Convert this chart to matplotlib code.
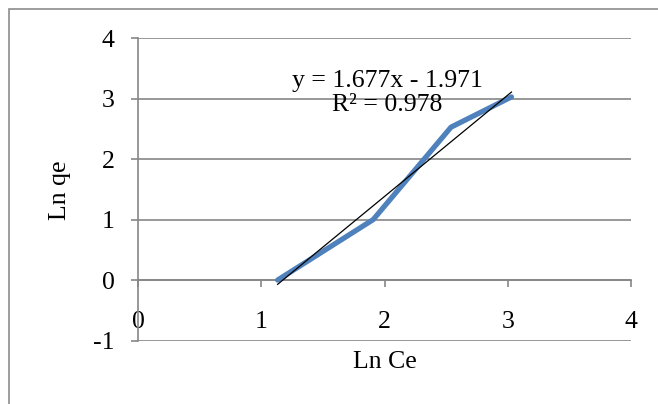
import matplotlib.pyplot as plt
from matplotlib.patches import Rectangle
import numpy as np

# Freundlich isotherm, linear form
ln_ce = [1.133, 1.908, 2.54, 3.03]
ln_qe = [0.0, 1.0, 2.53, 3.03]
slope = 1.677
intercept = -1.971
r2 = 0.978

plt.rcParams['font.family'] = ['Liberation Serif', 'DejaVu Serif']
plt.rcParams['axes.unicode_minus'] = False

fs = 18.5

fig = plt.figure(figsize=(6.58, 4.04), dpi=100)
W, H = 658, 404
ax = fig.add_axes([138 / W, 1 - 340.5 / H, (631 - 138) / W, (340.5 - 38.3) / H])

# chart border
fig.patches.append(Rectangle((9 / W, -0.1), 1.2, 1 - 9 / H + 0.1, transform=fig.transFigure,
                             fill=False, edgecolor='#8c8c8c', linewidth=1.2))

grid_c = '#868686'
ax.plot(ln_ce, ln_qe, color='#4f81bd', linewidth=3.8, solid_capstyle='round',
        solid_joinstyle='round', zorder=3)

# linear trendline over the data range
xs = np.array([min(ln_ce), max(ln_ce)])
ax.plot(xs, slope * xs + intercept, color='black', linewidth=0.9, zorder=4)

ax.text(2.02, 3.1, "y = %.3fx - %.3f\nR² = %.3f" % (slope, -intercept, r2),
        ha='center', va='center', fontsize=fs, linespacing=1.12, zorder=5)

ax.set_xlim(0, 4)
ax.set_ylim(-1, 4)
ax.set_xticks([0, 1, 2, 3, 4])
ax.set_yticks([-1, 0, 1, 2, 3, 4])
ax.yaxis.grid(True, color=grid_c, linewidth=1.2)
ax.set_axisbelow(True)

for s in ['top', 'right']:
    ax.spines[s].set_visible(False)
ax.spines['left'].set_color(grid_c)
ax.spines['left'].set_linewidth(1.2)
ax.spines['bottom'].set_position(('data', 0))
ax.spines['bottom'].set_color(grid_c)
ax.spines['bottom'].set_linewidth(1.2)

ax.tick_params(axis='y', direction='out', length=5, width=1.2, color=grid_c,
               labelsize=fs, pad=12)
ax.tick_params(axis='x', direction='out', length=5, width=1.2, color=grid_c,
               labelsize=fs, pad=17)

# axis titles placed in figure coordinates
fig.text(385 / W, 1 - 362 / H, "Ln Ce", fontsize=fs, ha='center', va='center')
fig.text(60 / W, 1 - 190 / H, "Ln qe", fontsize=fs, ha='center', va='center', rotation=90)

fig.savefig("out.png", dpi=100)
